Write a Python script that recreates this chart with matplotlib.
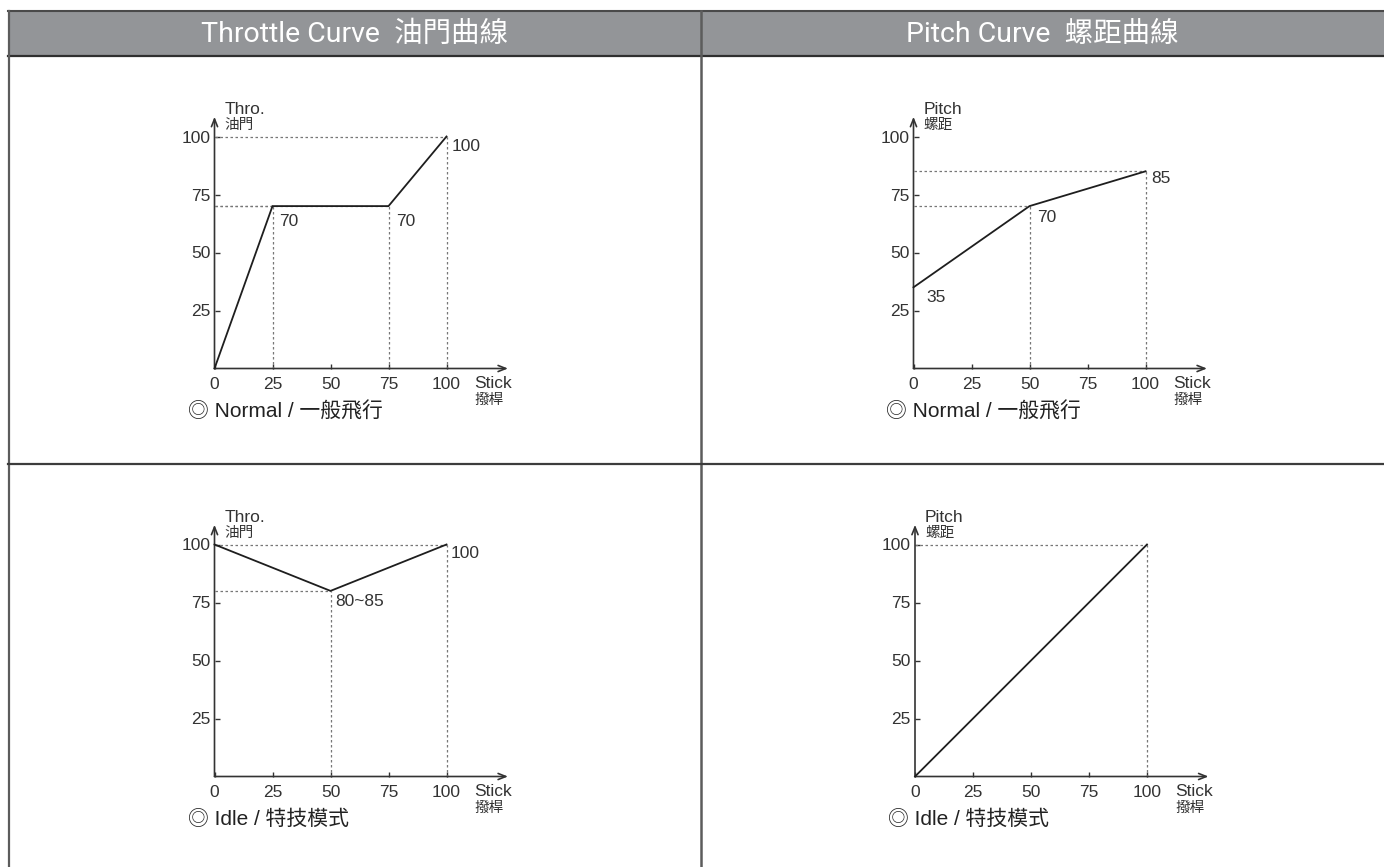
import matplotlib
matplotlib.use("Agg")
import matplotlib.pyplot as plt
from matplotlib.patches import Rectangle

# ---- curve data -----------------------------------------------------------
headers = ["Throttle Curve  油門曲線", "Pitch Curve  螺距曲線"]

stick_throttle_normal = [0, 25, 75, 100]
throttle_normal = [0, 70, 70, 100]
throttle_normal_labels = ["", "70", "70", "100"]

stick_pitch_normal = [0, 50, 100]
pitch_normal = [35, 70, 85]
pitch_normal_labels = ["35", "70", "85"]

stick_throttle_idle = [0, 50, 100]
throttle_idle = [100, 80, 100]
throttle_idle_labels = ["", "80~85", "100"]

stick_pitch_idle = [0, 100]
pitch_idle = [0, 100]
pitch_idle_labels = ["", ""]

x_ticks = [0, 25, 50, 75, 100]
y_ticks = [25, 50, 75, 100]
x_name = ("Stick", "撥桿")
throttle_name = ("Thro.", "油門")
pitch_name = ("Pitch", "螺距")
caption_normal = "◎ Normal / 一般飛行"
caption_idle = "◎ Idle / 特技模式"

# ---- figure ---------------------------------------------------------------
W, H, DPI = 1384, 867, 100
FONTS = ["Liberation Sans", "Noto Sans CJK TC", "DejaVu Sans"]
plt.rcParams["font.family"] = FONTS
fig = plt.figure(figsize=(W / DPI, H / DPI), dpi=DPI)
fig.patch.set_facecolor("white")

TEXT = "#333333"

# table frame drawn in pixel space
frame = fig.add_axes([0, 0, 1, 1])
frame.set_xlim(0, W)
frame.set_ylim(H, 0)
frame.axis("off")
frame.add_patch(Rectangle((8, 11), W - 8, 45, facecolor="#939598",
                          edgecolor="none", zorder=1))
frame.plot([8, W], [11, 11], color="#4a4a4a", lw=1.5, zorder=2)
frame.plot([8, W], [56, 56], color="#2f2f2f", lw=1.6, zorder=2)
frame.plot([8.7, 8.7], [11, H], color="#5c5c5c", lw=1.6, zorder=2)
frame.plot([701, 701], [11, H], color="#5c5c5c", lw=1.8, zorder=2)
frame.plot([8, W], [464, 464], color="#3c3c3c", lw=1.6, zorder=2)
HEADER_FONTS = ["Roboto", "Noto Sans CJK TC", "DejaVu Sans"]
frame.text(355, 34, headers[0], color="white", fontsize=20.5,
           family=HEADER_FONTS, ha="center", va="center", zorder=3)
frame.text(1042.5, 34, headers[1], color="white", fontsize=20.5,
           family=HEADER_FONTS, ha="center", va="center", zorder=3)

UNIT = 2.32  # pixels per percent
NUM_SIZE = 12.5


def panel(ox, oy, xs, ys, labels, offsets, yname, caption):
    ax = fig.add_axes([ox / W, (H - oy) / H, 100 * UNIT / W, 100 * UNIT / H])
    ax.set_xlim(0, 100)
    ax.set_ylim(0, 100)
    ax.patch.set_alpha(0)
    for s in ax.spines.values():
        s.set_visible(False)

    ax.set_xticks(x_ticks)
    ax.set_yticks(y_ticks)
    ax.set_xticklabels([str(v) for v in x_ticks])
    ax.set_yticklabels([str(v) for v in y_ticks])
    ax.tick_params(axis="x", direction="in", length=3.5, width=1.0,
                   color=TEXT, labelsize=NUM_SIZE, pad=6.0, labelcolor=TEXT)
    ax.tick_params(axis="y", direction="in", length=3.5, width=1.0,
                   color=TEXT, labelsize=NUM_SIZE, pad=3.0, labelcolor=TEXT)

    axis_arrow = dict(arrowstyle="->,head_length=0.55,head_width=0.22",
                      color=TEXT, lw=1.2, shrinkA=0, shrinkB=0)
    ax.annotate("", xy=(126.5, 0), xytext=(0, 0), arrowprops=axis_arrow,
                annotation_clip=False)
    ax.annotate("", xy=(0, 108.5), xytext=(0, 0), arrowprops=axis_arrow,
                annotation_clip=False)

    # dotted guides to each breakpoint
    for x, y in zip(xs, ys):
        if x > 0:
            ax.plot([0, x], [y, y], color="#777777", lw=0.9,
                    ls=(0, (2, 2)), clip_on=False, zorder=2)
            ax.plot([x, x], [0, y], color="#777777", lw=0.9,
                    ls=(0, (2, 2)), clip_on=False, zorder=2)

    ax.plot(xs, ys, color="#1e1e1e", lw=1.3, clip_on=False, zorder=3,
            solid_joinstyle="miter")

    for x, y, t, off in zip(xs, ys, labels, offsets):
        if t:
            ax.annotate(t, xy=(x, y), xytext=off, textcoords="offset pixels",
                        ha="left", va="top", fontsize=NUM_SIZE, color=TEXT)

    # axis names
    ax.annotate(yname[0], xy=(0, 0), xytext=(10, 255),
                textcoords="offset pixels", ha="left", va="baseline",
                fontsize=NUM_SIZE, color=TEXT, annotation_clip=False)
    ax.annotate(yname[1], xy=(0, 0), xytext=(10, 240),
                textcoords="offset pixels", ha="left", va="baseline",
                fontsize=10.5, color=TEXT, annotation_clip=False)
    ax.annotate(x_name[0], xy=(0, 0), xytext=(260, -20),
                textcoords="offset pixels", ha="left", va="baseline",
                fontsize=NUM_SIZE, color=TEXT, annotation_clip=False)
    ax.annotate(x_name[1], xy=(0, 0), xytext=(260, -35),
                textcoords="offset pixels", ha="left", va="baseline",
                fontsize=10.5, color=TEXT, annotation_clip=False)

    ax.annotate(caption, xy=(0, 0), xytext=(-27, -43),
                textcoords="offset pixels", ha="left", va="center",
                fontsize=15, color="#222222", annotation_clip=False)
    return ax


panel(214.5, 368.5, stick_throttle_normal, throttle_normal,
      throttle_normal_labels, [(0, 0), (7, -8), (8, -8), (5, -2)],
      throttle_name, caption_normal)
panel(913.5, 368.5, stick_pitch_normal, pitch_normal,
      pitch_normal_labels, [(13, -3), (8, -4), (6, 0)],
      pitch_name, caption_normal)
panel(214.5, 776.5, stick_throttle_idle, throttle_idle,
      throttle_idle_labels, [(0, 0), (4.5, -3), (4.5, -2)],
      throttle_name, caption_idle)
panel(915, 776.5, stick_pitch_idle, pitch_idle,
      pitch_idle_labels, [(0, 0), (0, 0)],
      pitch_name, caption_idle)

fig.savefig("out.png", dpi=DPI)
